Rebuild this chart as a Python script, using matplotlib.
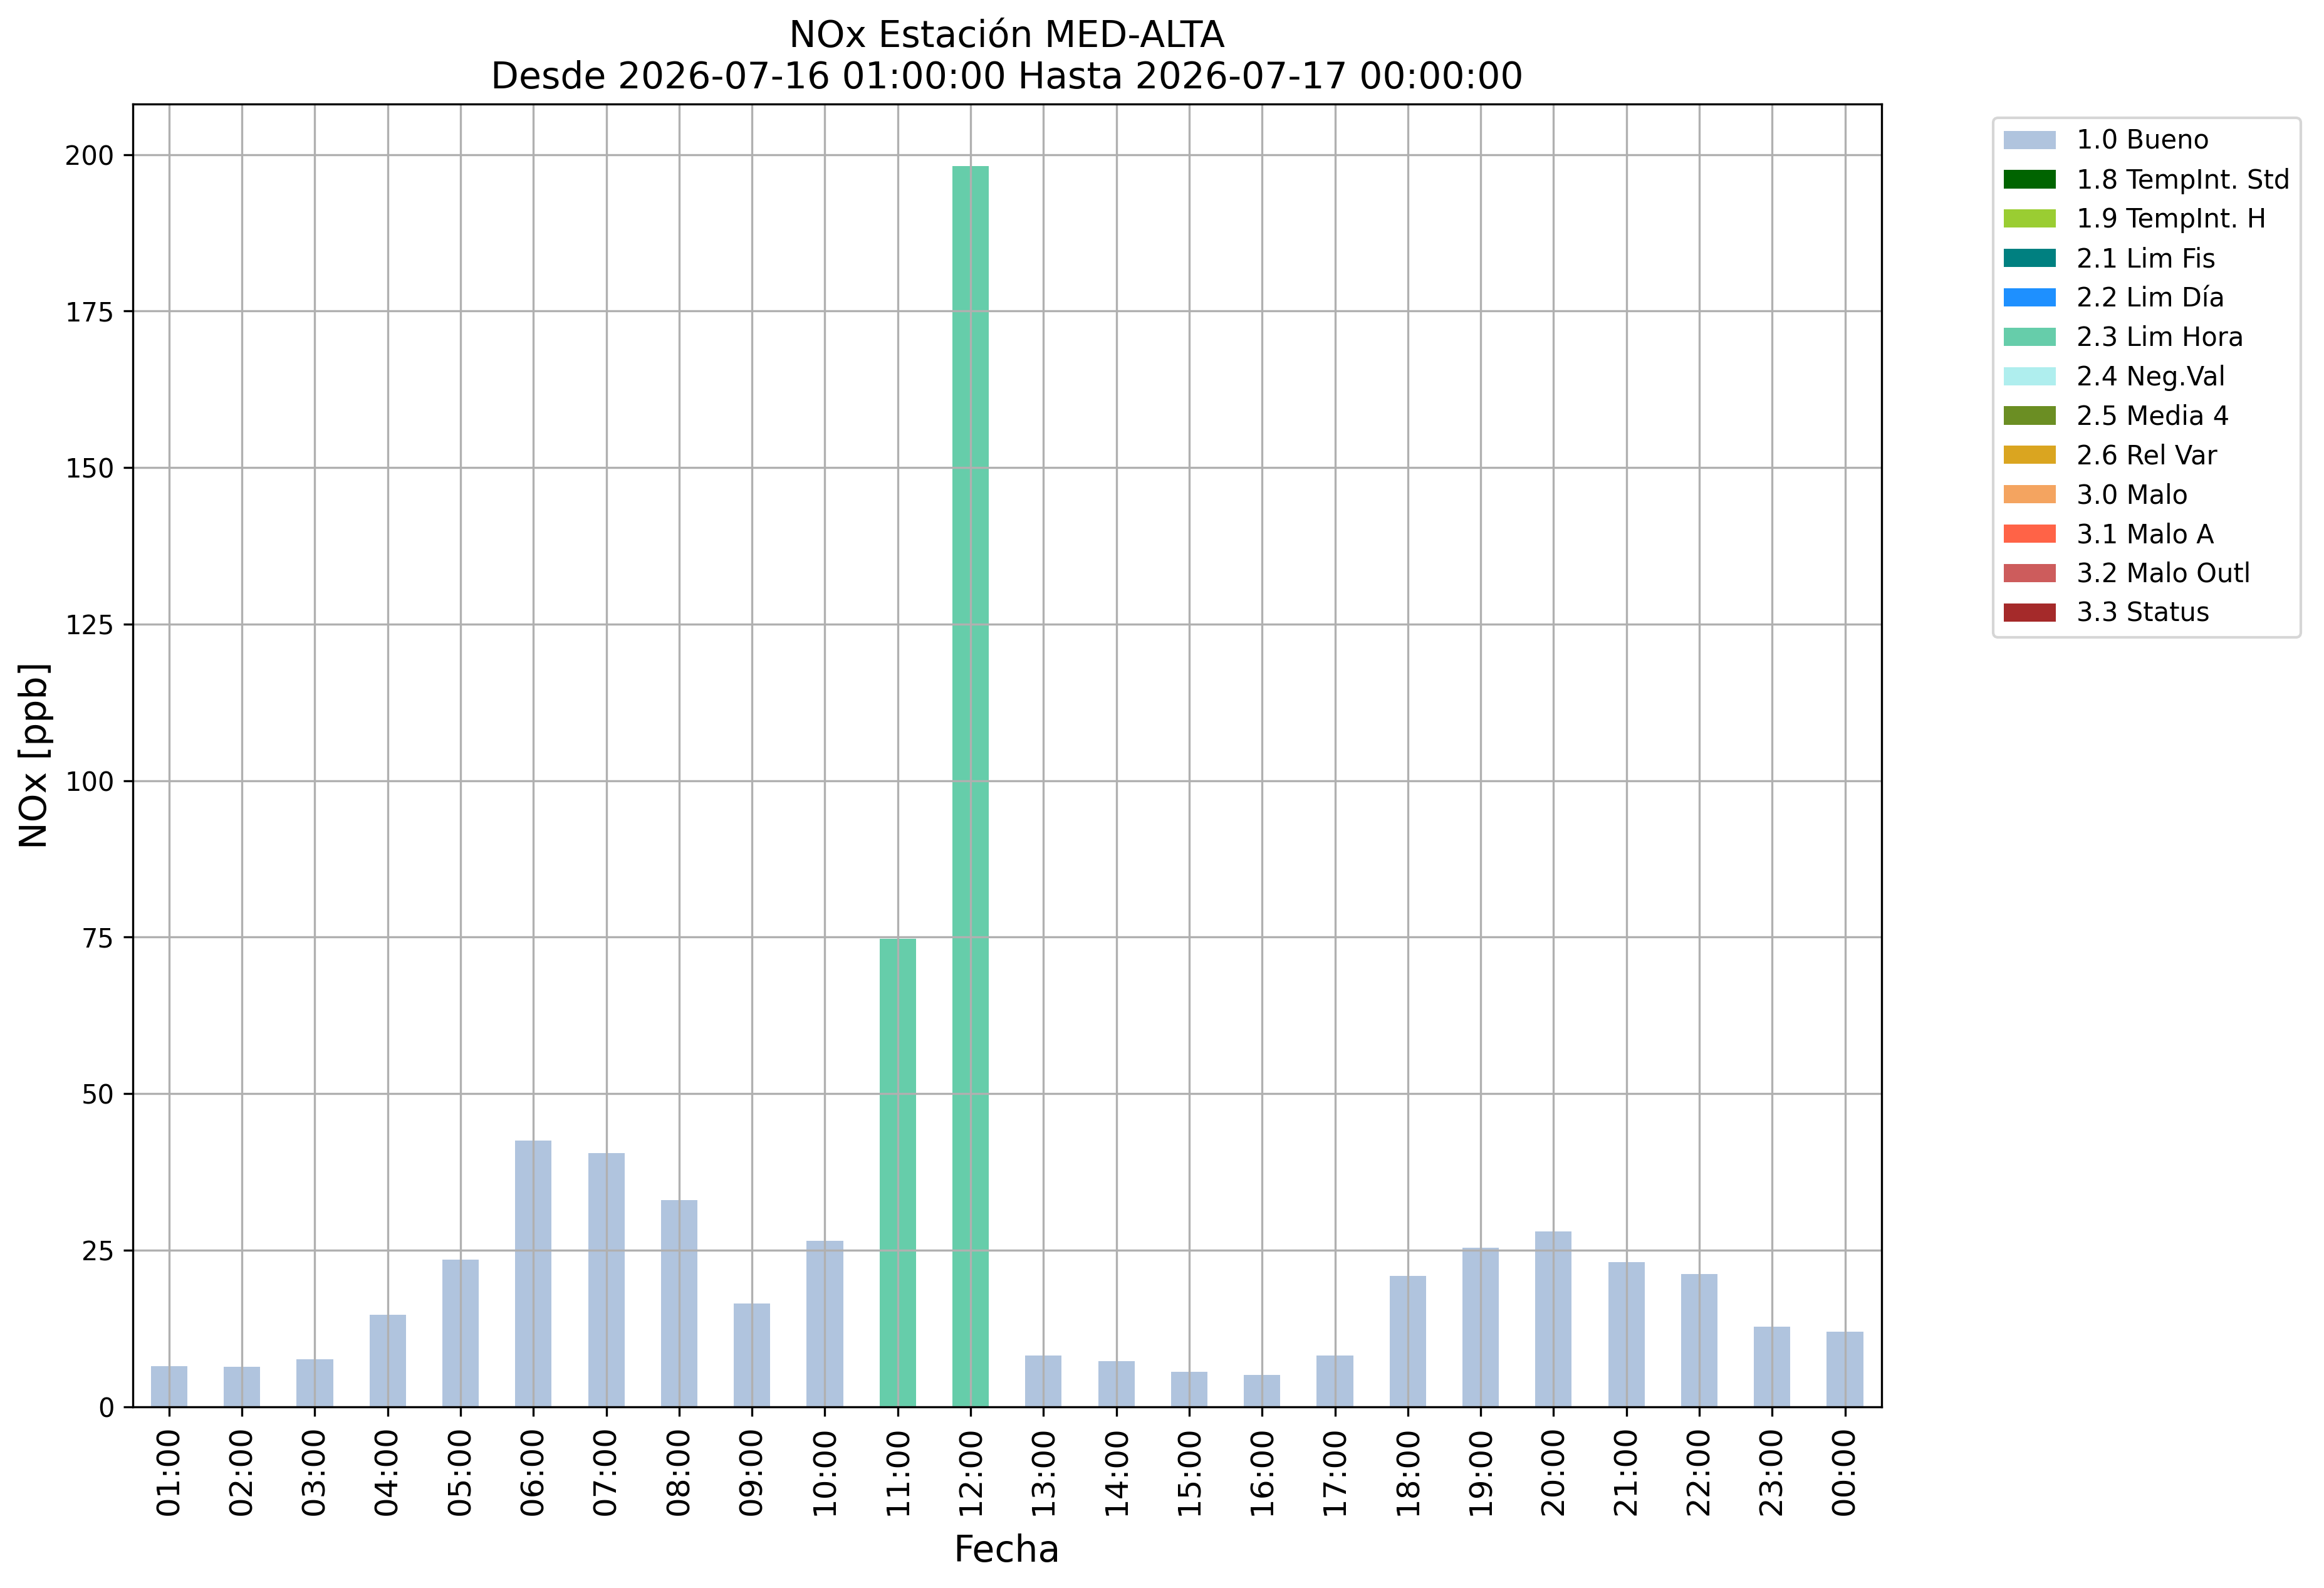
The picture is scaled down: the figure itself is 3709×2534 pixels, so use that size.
import numpy as np
from matplotlib import pyplot as plt

# hourly NOx values (ppb) and the validation flag of each hour
hours = ['01:00', '02:00', '03:00', '04:00', '05:00', '06:00', '07:00', '08:00',
         '09:00', '10:00', '11:00', '12:00', '13:00', '14:00', '15:00', '16:00',
         '17:00', '18:00', '19:00', '20:00', '21:00', '22:00', '23:00', '00:00']
nox = [6.5, 6.4, 7.6, 14.7, 23.5, 42.5, 40.5, 33.0, 16.5, 26.5, 74.7, 198.2,
       8.2, 7.3, 5.6, 5.1, 8.2, 20.9, 25.4, 28.0, 23.1, 21.2, 12.8, 12.0]
flags = ['1.0'] * 10 + ['2.3', '2.3'] + ['1.0'] * 12

# flag codes, legend labels and colours
codes = ['1.0', '1.8', '1.9', '2.1', '2.2', '2.3', '2.4', '2.5', '2.6', '3.0', '3.1', '3.2', '3.3']
labels = ['1.0 Bueno', '1.8 TempInt. Std', '1.9 TempInt. H', '2.1 Lim Fis', '2.2 Lim Día',
          '2.3 Lim Hora', '2.4 Neg.Val', '2.5 Media 4', '2.6 Rel Var', '3.0 Malo',
          '3.1 Malo A', '3.2 Malo Outl', '3.3 Status']
colors = ['lightsteelblue', 'darkgreen', 'yellowgreen', 'teal', 'dodgerblue',
          'mediumaquamarine', 'paleturquoise', 'olivedrab', 'goldenrod', 'sandybrown',
          'tomato', 'indianred', 'brown']

W, H, DPI = 3709, 2534, 300
fig = plt.figure(figsize=(W / DPI, H / DPI), dpi=DPI)
ax = fig.add_axes([211.7 / W, 1 - 2244.7 / H, (3002.7 - 211.7) / W, (2244.7 - 165.7) / H])

x = np.arange(len(hours))
vals = np.array(nox)
fl = np.array(flags)
bottom = np.zeros(len(hours))
# one stacked series per flag (zero where the hour has another flag)
for code, lab, c in zip(codes, labels, colors):
    h = np.where(fl == code, vals, 0.0)
    ax.bar(x, h, width=0.5, bottom=bottom, color=c, label=lab)
    bottom += h

ax.set_xlim(-0.5, len(hours) - 0.5)
ax.set_ylim(0, max(nox) * 1.05)
ax.set_xticks(x)
ax.set_xticklabels(hours, rotation=90, fontsize=12)
ax.tick_params(axis='y', labelsize=10)
ax.grid(True)

ax.set_title('NOx Estación MED-ALTA\nDesde 2026-07-16 01:00:00 Hasta 2026-07-17 00:00:00', fontsize=14)
ax.set_xlabel('Fecha', fontsize=14, labelpad=7)
ax.set_ylabel('NOx [ppb]', fontsize=14)

ax.legend(loc='upper left', bbox_to_anchor=(3181 / W, 1 - 188 / H),
          bbox_transform=fig.transFigure, borderaxespad=0, fontsize=10)

fig.savefig('out.png', dpi=DPI)
